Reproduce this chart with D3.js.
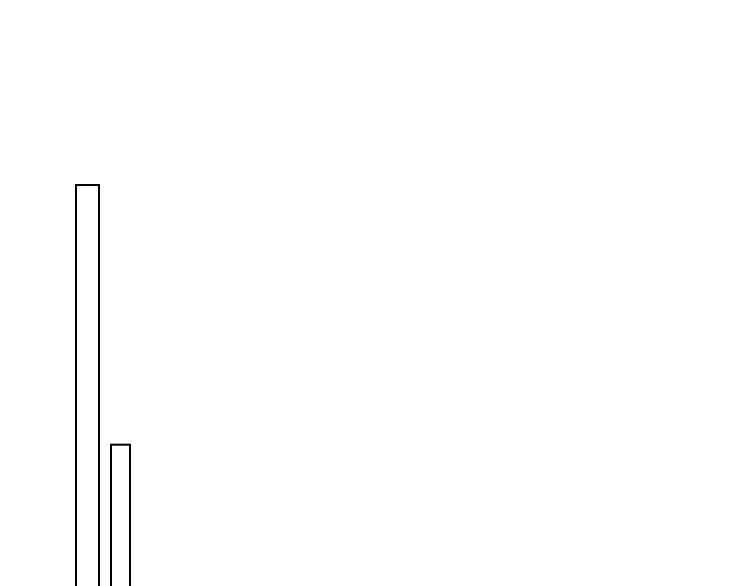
<!DOCTYPE html>
<html><head><meta charset="utf-8">
<script src="https://cdn.jsdelivr.net/npm/d3@7/dist/d3.min.js"></script>
<style>html,body{margin:0;padding:0;background:#fff;overflow:hidden}</style>
</head><body>
<svg id="c" width="750" height="586"></svg>
<script>
const binStart = [0, 7];
const binEnd = [5, 11.2];
const values = [100, 40];

const svg = d3.select("#c");
const x = d3.scaleLinear().domain([0, 11]).range([76, 131]);
const y = d3.scaleLinear().domain([0, 100]).range([617.8, 185]);

svg.selectAll("rect.bar").data(values).join("rect")
  .attr("class", "bar")
  .attr("x", (d, i) => x(binStart[i]))
  .attr("width", (d, i) => x(binEnd[i]) - x(binStart[i]) - 2)
  .attr("y", d => y(d))
  .attr("height", d => y(0) - y(d))
  .attr("fill", "#fff")
  .attr("stroke", "#000")
  .attr("stroke-width", 2);
</script>
</body></html>
